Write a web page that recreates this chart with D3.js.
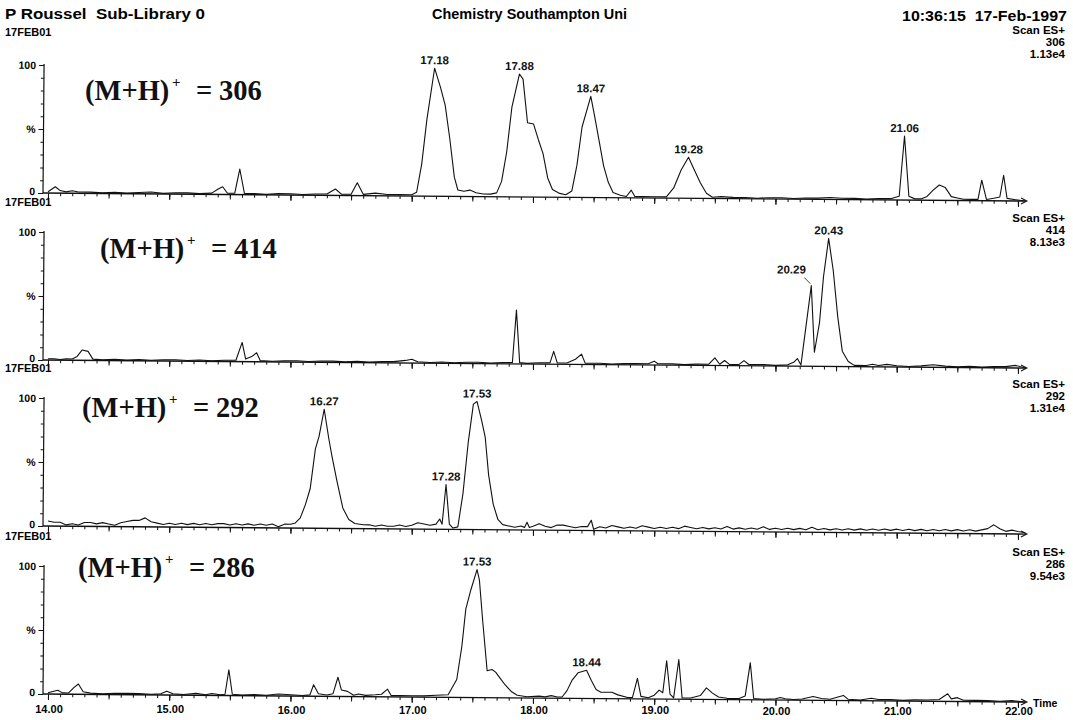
<!DOCTYPE html>
<html>
<head>
<meta charset="utf-8">
<script src="https://cdn.jsdelivr.net/npm/d3@7"></script>
<style>
  body { margin: 0; background: #fff; }
  svg { display: block; font-family: "Liberation Sans", Arial, sans-serif; }
  text { white-space: pre; }
</style>
</head>
<body>
<div id="chart"></div>
<script>
const width = 1073;
const height = 720;

// ---- data (time in min, intensity in %) ----
const trace306 = [
  [14.00,1],[14.03,3],[14.06,5],[14.10,2],[14.15,1],[14.20,2],[14.25,1],[14.35,1],[14.45,0.5],[14.55,1],
  [14.65,0.5],[14.75,1],[14.85,1.5],[14.95,0.5],[15.05,1],[15.15,1],[15.25,0.5],[15.35,1],[15.40,4],[15.44,6],
  [15.48,1],[15.54,1],[15.58,20],[15.62,1],[15.70,1],[15.80,0.5],[15.90,1],[16.00,1],[16.10,0.5],[16.20,1],
  [16.30,1],[16.37,5],[16.42,1],[16.50,1],[16.55,10],[16.60,1],[16.70,2],[16.80,1],[16.90,1],[17.00,1],
  [17.04,3],[17.08,25],[17.12,60],[17.18,100],[17.23,85],[17.27,71],[17.31,45],[17.35,15],[17.38,5],[17.43,4],
  [17.48,5],[17.53,3],[17.59,2],[17.65,2],[17.70,3],[17.74,12],[17.78,35],[17.82,70],[17.88,96],[17.91,92],
  [17.95,58],[18.00,57],[18.04,45],[18.08,34],[18.12,15],[18.16,6],[18.22,3],[18.27,2],[18.32,5],[18.36,25],
  [18.40,55],[18.47,79],[18.50,65],[18.54,45],[18.58,25],[18.62,12],[18.66,4],[18.72,2],[18.77,1],[18.81,6],
  [18.84,1],[18.90,1],[19.00,1],[19.10,1],[19.16,8],[19.22,22],[19.28,32],[19.33,22],[19.38,12],[19.43,4],
  [19.48,1],[19.55,1.5],[19.65,1],[19.75,1],[19.85,0.5],[19.95,1],[20.05,1],[20.15,0.5],[20.25,1],[20.35,1],
  [20.45,1.5],[20.55,1],[20.65,1],[20.75,0.5],[20.85,1],[20.95,1],[21.02,3],[21.06,50],[21.10,3],[21.15,1],
  [21.20,1],[21.25,3],[21.30,8],[21.35,12],[21.40,10],[21.45,3],[21.50,2],[21.55,1],[21.62,1],[21.67,1],
  [21.70,16],[21.74,1],[21.80,2],[21.85,3],[21.88,20],[21.91,2],[21.98,1],[22.06,0]
];

const trace414 = [
  [14.00,1],[14.05,1],[14.10,0.5],[14.15,1],[14.20,1],[14.24,3],[14.28,8],[14.33,7],[14.37,1],[14.45,0.5],
  [14.55,1],[14.65,0.5],[14.75,1],[14.85,0.5],[14.95,1],[15.05,1],[15.15,0.5],[15.25,1],[15.35,0.5],[15.45,1],
  [15.55,1],[15.60,15],[15.63,2],[15.68,4],[15.72,7],[15.75,1],[15.85,0.5],[15.95,1],[16.05,1],[16.15,0.5],
  [16.25,1],[16.35,1],[16.45,0.5],[16.55,1],[16.65,0.5],[16.75,1],[16.85,1],[16.95,2],[17.00,3],[17.05,1],
  [17.15,0.5],[17.25,1],[17.35,0.5],[17.45,1],[17.55,1],[17.65,0.5],[17.75,1],[17.83,1],[17.86,42],[17.89,1],
  [17.95,0.5],[18.05,1],[18.14,1],[18.17,10],[18.20,1],[18.28,1],[18.35,4],[18.40,8],[18.43,1],[18.55,1],
  [18.65,0.5],[18.75,1],[18.85,1],[18.95,1],[19.00,3],[19.03,1],[19.15,1],[19.25,0.5],[19.35,1],[19.45,1],
  [19.50,6],[19.54,1],[19.58,4],[19.62,1],[19.70,1],[19.74,4],[19.78,1],[19.90,1],[20.00,0.5],[20.10,1],
  [20.15,3],[20.18,6],[20.21,1],[20.29,63],[20.32,11],[20.36,34],[20.39,70],[20.43,100],[20.47,75],[20.51,39],
  [20.55,12],[20.60,4],[20.65,1],[20.75,1],[20.80,2],[20.85,1],[20.92,2],[21.00,1],[21.10,0.5],[21.20,1],
  [21.30,2],[21.40,1],[21.50,0.5],[21.60,1],[21.70,0.5],[21.80,1],[21.90,1],[21.98,2],[22.06,0]
];

const trace292 = [
  [14.00,4],[14.05,3],[14.10,3],[14.15,1],[14.20,2],[14.25,1],[14.30,3],[14.35,3],[14.40,2],[14.45,3],
  [14.50,2],[14.55,1],[14.60,3],[14.65,4],[14.70,5],[14.75,5],[14.80,7],[14.85,4],[14.90,3],[14.95,2],
  [15.00,3],[15.05,2],[15.10,3],[15.15,2],[15.20,3],[15.25,2],[15.30,3],[15.35,2],[15.40,3],[15.45,3],
  [15.50,2],[15.55,3],[15.60,2],[15.65,3],[15.70,2],[15.75,3],[15.80,2],[15.85,3],[15.90,1],[15.95,3],
  [16.00,3],[16.04,4],[16.08,8],[16.12,18],[16.16,31],[16.20,62],[16.23,72],[16.27,93],[16.31,70],[16.34,55],
  [16.38,37],[16.43,16],[16.48,7],[16.53,4],[16.60,3],[16.65,3],[16.70,2],[16.75,3],[16.80,2],[16.85,2],
  [16.90,3],[16.95,2],[17.00,3],[17.05,5],[17.10,4],[17.15,3],[17.20,4],[17.23,8],[17.25,4],[17.28,35],
  [17.31,4],[17.34,1],[17.38,2],[17.42,28],[17.46,68],[17.50,98],[17.53,100],[17.57,85],[17.60,72],[17.63,43],
  [17.67,20],[17.71,8],[17.75,4],[17.80,3],[17.85,2],[17.90,3],[17.93,2],[17.95,6],[17.97,2],[18.00,3],
  [18.05,5],[18.10,3],[18.15,2],[18.20,4],[18.25,4],[18.30,3],[18.35,2],[18.40,3],[18.45,3],[18.48,8],
  [18.50,1],[18.55,3],[18.60,2],[18.65,4],[18.70,3],[18.75,2],[18.80,3],[18.85,2],[18.90,4],[18.95,3],
  [19.00,2],[19.05,3],[19.10,2],[19.15,3],[19.20,2],[19.25,4],[19.30,3],[19.35,2],[19.40,3],[19.45,2],
  [19.50,3],[19.55,2],[19.60,4],[19.65,2],[19.70,3],[19.75,2],[19.80,3],[19.85,2],[19.90,4],[19.95,2],
  [20.00,3],[20.05,2],[20.10,3],[20.15,2],[20.20,3],[20.25,2],[20.30,4],[20.35,2],[20.40,3],[20.45,2],
  [20.50,3],[20.55,2],[20.60,3],[20.65,2],[20.70,3],[20.75,2],[20.80,3],[20.85,2],[20.90,3],[20.95,2],
  [21.00,3],[21.05,2],[21.10,3],[21.15,2],[21.20,3],[21.25,2],[21.30,3],[21.35,2],[21.40,3],[21.45,2],
  [21.50,3],[21.55,2],[21.60,3],[21.65,2],[21.70,3],[21.75,4],[21.80,7],[21.85,4],[21.90,2],[21.95,3],
  [22.00,2],[22.06,1]
];

const trace286 = [
  [14.00,1],[14.04,2],[14.08,3],[14.12,1],[14.17,1],[14.21,5],[14.25,8],[14.29,2],[14.35,1],[14.45,0.5],
  [14.55,1],[14.65,1],[14.75,1],[14.85,0.5],[14.93,1],[14.98,3],[15.03,1],[15.12,0.5],[15.22,1.5],[15.30,0.5],
  [15.35,1.5],[15.42,0.5],[15.46,1],[15.49,20],[15.52,1],[15.60,0.5],[15.70,1],[15.80,0.5],[15.90,1.5],[16.00,1],
  [16.10,0.5],[16.16,1],[16.19,9],[16.23,2],[16.30,1],[16.35,2],[16.39,15],[16.42,5],[16.47,4],[16.52,1],
  [16.56,2],[16.62,1],[16.70,1.5],[16.75,2],[16.80,6],[16.83,1],[16.90,1],[17.00,1],[17.10,1],[17.20,1.5],
  [17.30,2],[17.37,14],[17.41,40],[17.44,69],[17.48,84],[17.53,100],[17.55,92],[17.58,60],[17.62,21],[17.66,22],
  [17.69,20],[17.73,15],[17.77,10],[17.82,5],[17.87,2],[17.95,1],[18.05,1.5],[18.10,1],[18.15,2],[18.20,1],
  [18.24,1],[18.28,6],[18.32,14],[18.37,20],[18.44,22],[18.48,14],[18.52,7],[18.56,5],[18.60,5],[18.65,5],
  [18.70,3],[18.78,1],[18.82,1],[18.86,16],[18.89,2],[18.95,1],[19.00,3],[19.04,7],[19.07,5],[19.10,30],
  [19.13,4],[19.16,1],[19.20,31],[19.23,1],[19.30,1],[19.38,3],[19.43,9],[19.48,5],[19.53,2],[19.60,1],
  [19.70,1],[19.75,3],[19.79,29],[19.82,1],[19.90,0.5],[20.00,1],[20.04,2],[20.08,1],[20.15,0.5],[20.22,1],
  [20.31,3],[20.38,1.5],[20.45,1],[20.56,4],[20.60,1],[20.70,0.5],[20.79,2],[20.85,1],[20.95,1],[21.05,0.5],
  [21.15,1],[21.25,1],[21.35,1.5],[21.42,6],[21.45,2],[21.50,3],[21.55,1],[21.65,1],[21.75,1],[21.85,0.5],
  [21.95,1],[22.06,0]
];

const ionMasses = ["306", "414", "292", "286"];
const scanMaxima = ["1.13e4", "8.13e3", "1.31e4", "9.54e3"];
const peakTimes = [
  ["17.18", "17.88", "18.47", "19.28", "21.06"],
  ["20.29", "20.43"],
  ["16.27", "17.28", "17.53"],
  ["17.53", "18.44"]
];
const xTickLabels = ["14.00", "15.00", "16.00", "17.00", "18.00", "19.00", "20.00", "21.00", "22.00"];
const traces = [trace306, trace414, trace292, trace286];

// ---- layout ----
const svg = d3.select("#chart")
    .append("svg")
    .attr("width", width)
    .attr("height", height);

svg.append("rect").attr("width", width).attr("height", height).attr("fill", "#fff");

const x = d3.scaleLinear().domain([14, 22]).range([48, 1018]);
const axisX0 = 43;
const axisX1 = 1026;
const panelTop = [65, 232, 398, 566];
const panelH = 128;
const tilt = 0.47; // the scanned page is slightly skewed

// header
svg.append("text").attr("x", 5).attr("y", 19)
    .attr("font-size", 14.5).attr("font-weight", "bold")
    .attr("textLength", 200).attr("lengthAdjust", "spacingAndGlyphs")
    .text("P Roussel  Sub-Library 0");
svg.append("text").attr("x", 432).attr("y", 19)
    .attr("font-size", 14.5).attr("font-weight", "bold")
    .attr("textLength", 195).attr("lengthAdjust", "spacingAndGlyphs")
    .text("Chemistry Southampton Uni");
svg.append("text").attr("x", 902).attr("y", 21)
    .attr("font-size", 15).attr("font-weight", "bold")
    .attr("textLength", 165).attr("lengthAdjust", "spacingAndGlyphs")
    .text("10:36:15  17-Feb-1997");

traces.forEach((trace, i) => {
    const top = panelTop[i];
    const bottom = top + panelH;
    const y = d3.scaleLinear().domain([0, 100]).range([bottom, top]);

    // labels outside the skewed plot
    svg.append("text").attr("x", 5).attr("y", i === 0 ? top - 29 : top - 26)
        .attr("font-size", 11).attr("font-weight", "bold")
        .text("17FEB01");

    const rTop = i === 0 ? top - 31 : top - 10;
    const right = svg.append("text").attr("text-anchor", "end")
        .attr("font-size", 11.5).attr("font-weight", "bold");
    ["Scan ES+", ionMasses[i], scanMaxima[i]].forEach((s, k) => {
        right.append("tspan").attr("x", 1065).attr("y", rTop + k * 12).text(s);
    });

    const g = svg.append("g").attr("transform", `rotate(${tilt},${axisX0},${bottom})`);

    // y axis
    const yMinor = d3.axisLeft(y).tickValues(d3.range(0, 101, 10)).tickSize(3).tickFormat("").tickSizeOuter(0);
    const yMajor = d3.axisLeft(y).tickValues([0, 50, 100]).tickSize(5).tickFormat("").tickSizeOuter(0);
    [yMinor, yMajor].forEach(ax => {
        const a = g.append("g").attr("transform", `translate(${axisX0},0)`).call(ax);
        a.select(".domain").remove();
        a.selectAll("line").attr("stroke", "#111");
    });
    g.append("line").attr("x1", axisX0).attr("x2", axisX0).attr("y1", y(100) - 1).attr("y2", bottom)
        .attr("stroke", "#111").attr("stroke-width", 1.2);
    [[100, "100"], [50, "%"], [0, "0"]].forEach(([v, s]) => {
        g.append("text").attr("x", axisX0 - 8).attr("y", y(v) + (v === 0 ? 2 : 4))
            .attr("text-anchor", "end").attr("font-size", 10.5).attr("font-weight", "bold")
            .text(s);
    });

    // x axis
    const xMinor = d3.axisBottom(x).tickValues(d3.range(140, 221, 1).map(d => d / 10)).tickSize(3).tickFormat("").tickSizeOuter(0);
    const xMid = d3.axisBottom(x).tickValues(d3.range(140, 221, 5).map(d => d / 10)).tickSize(5).tickFormat("").tickSizeOuter(0);
    const xMajor = d3.axisBottom(x).tickValues(d3.range(14, 23)).tickSize(6).tickFormat("").tickSizeOuter(0);
    [xMinor, xMid, xMajor].forEach(ax => {
        const a = g.append("g").attr("transform", `translate(0,${bottom})`).call(ax);
        a.select(".domain").remove();
        a.selectAll("line").attr("stroke", "#111");
    });
    g.append("line").attr("x1", axisX0).attr("x2", axisX1).attr("y1", bottom).attr("y2", bottom)
        .attr("stroke", "#111").attr("stroke-width", 1.3);
    g.append("path")
        .attr("d", `M${axisX1 - 5},${bottom - 3}L${axisX1 + 1},${bottom}L${axisX1 - 5},${bottom + 3}`)
        .attr("fill", "none").attr("stroke", "#111").attr("stroke-width", 1);

    if (i === 3) {
        // time labels sit under the axis, printed less skewed than the trace
        svg.append("g").selectAll("text")
            .data(d3.range(14, 23))
            .join("text")
            .attr("x", d => x(d) + 1)
            .attr("y", d => bottom + 19 + (d - 14) * 0.25)
            .attr("text-anchor", "middle")
            .attr("font-size", 11).attr("font-weight", "bold")
            .text((d, k) => xTickLabels[k]);
        svg.append("text").attr("x", axisX1 + 7).attr("y", bottom + 13)
            .attr("font-size", 10.5).attr("font-weight", "bold").text("Time");
    }

    // trace
    const line = d3.line().x(d => x(d[0])).y(d => y(d[1]));
    g.append("path").datum(trace)
        .attr("d", line)
        .attr("fill", "none")
        .attr("stroke", "#111")
        .attr("stroke-width", 1.1)
        .attr("stroke-linejoin", "round");

    // peak labels
    peakTimes[i].forEach(lbl => {
        const t = +lbl;
        const pt = trace.filter(d => Math.abs(d[0] - t) < 0.035)
            .reduce((a, b) => (b[1] > a[1] ? b : a));
        const px = x(pt[0]);
        const py = y(pt[1]);
        if (lbl === "20.29") {
            g.append("text").attr("x", px - 20).attr("y", py - 12)
                .attr("text-anchor", "middle").attr("font-size", 11.5).attr("font-weight", "bold")
                .attr("fill", "#111").text(lbl);
            g.append("line").attr("x1", px - 7).attr("y1", py - 8).attr("x2", px - 1).attr("y2", py - 2)
                .attr("stroke", "#111").attr("stroke-width", 0.8);
        } else {
            g.append("text").attr("x", px).attr("y", py - 4)
                .attr("text-anchor", "middle").attr("font-size", 11.5).attr("font-weight", "bold")
                .attr("fill", "#111").text(lbl);
        }
    });

    // ion label
    const lx = [85, 100, 82, 78][i];
    const ly = [100, 258, 417, 577][i];
    const ion = svg.append("g").attr("font-family", "Liberation Serif, 'Times New Roman', serif")
        .attr("font-weight", "bold").attr("fill", "#111");
    ion.append("text").attr("x", lx).attr("y", ly).attr("font-size", 28.5).text("(M+H)");
    ion.append("text").attr("x", lx + 87).attr("y", ly - 13).attr("font-size", 15).text("+");
    ion.append("text").attr("x", lx + 111).attr("y", ly).attr("font-size", 28.5).text("=");
    ion.append("text").attr("x", lx + 134).attr("y", ly).attr("font-size", 28.5).text(ionMasses[i]);
});
</script>
</body>
</html>
